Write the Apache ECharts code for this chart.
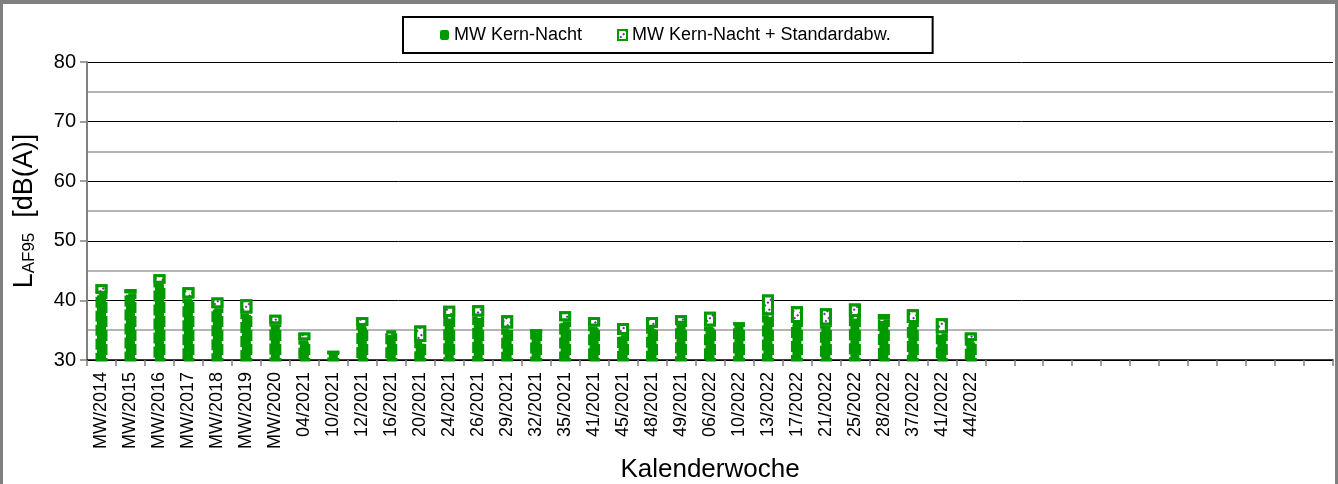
<!DOCTYPE html>
<html>
<head>
<meta charset="utf-8">
<script src="https://cdn.jsdelivr.net/npm/echarts@6/dist/echarts.min.js"></script>
<style>
html,body{margin:0;padding:0;background:#808080;}
#c{width:1338px;height:484px;}
</style>
</head>
<body>
<div id="c"></div>
<script>
// Kalenderwochen (31 Messungen + 12 leere Plätze)
var categories = ['MW/2014','MW/2015','MW/2016','MW/2017','MW/2018','MW/2019','MW/2020',
  '04/2021','10/2021','12/2021','16/2021','20/2021','24/2021','26/2021','29/2021','32/2021',
  '35/2021','41/2021','45/2021','48/2021','49/2021','06/2022','10/2022','13/2022','17/2022',
  '21/2022','25/2022','28/2022','37/2022','41/2022','44/2022',
  '','','','','','','','','','','',''];
// Mittelwert Kern-Nacht [dB(A)]
var meanValues = [41.1,41.2,42.8,40.3,38.7,37.8,36.0,33.3,31.3,35.7,34.5,33.0,37.2,37.3,35.3,34.9,
  36.5,35.6,34.2,35.4,36.1,35.6,36.1,37.5,36.2,35.8,37.2,36.8,36.2,34.5,33.2];
// Standardabweichung [dB]
var stdValues = [1.6,0.7,1.6,1.9,1.8,2.4,1.6,1.3,0,1.5,0.4,2.8,1.9,1.9,2.2,0,
  1.7,1.6,2.0,1.8,1.4,2.5,0,3.5,2.8,2.9,2.3,0.9,2.3,2.5,1.4];
var yTicks = {min:30, max:80, interval:10};
var seriesNames = ['MW Kern-Nacht','MW Kern-Nacht + Standardabw.'];

var FONT = '"Liberation Sans", Arial, sans-serif';
var GREEN = '#009900';
var hatch = {symbol:'rect', symbolSize:1, color:'#7030a0', backgroundColor:'#ffffff',
  dashArrayX:[[2,1.5]], dashArrayY:[1.5,3.5], rotation:-Math.PI/4};

var chart = echarts.init(document.getElementById('c'), null, {renderer:'canvas'});
chart.setOption({
  animation:false,
  textStyle:{fontFamily:FONT},
  graphic:{elements:[{type:'rect', silent:true, z:-100,
    shape:{x:3,y:4,width:1332,height:480}, style:{fill:'#ffffff'}}]},
  legend:{
    left:403, top:17, orient:'horizontal',
    borderColor:'#000', borderWidth:2, padding:[9,42,9,37],
    itemWidth:9, itemHeight:10, itemGap:35,
    textStyle:{fontSize:18, color:'#000', fontFamily:FONT},
    data:[
      {name:seriesNames[0], icon:'roundRect', itemStyle:{color:GREEN, borderWidth:0}},
      {name:seriesNames[1], icon:'rect', itemStyle:{color:'#fff', borderColor:GREEN, borderWidth:2, decal:hatch}}
    ]
  },
  grid:{left:87, right:5, top:62, bottom:124, containLabel:false, outerBoundsMode:'none'},
  xAxis:{
    type:'category', data:categories,
    name:'Kalenderwoche', nameLocation:'middle', nameGap:93,
    nameTextStyle:{fontSize:26, color:'#000', fontFamily:FONT},
    axisLine:{show:true, lineStyle:{color:'#000', width:1.5}},
    axisTick:{show:true, alignWithLabel:false, length:6, lineStyle:{color:'#808080', width:1.5}},
    axisLabel:{interval:0, rotate:90, fontSize:18, margin:12, color:'#000', fontFamily:FONT},
    splitLine:{show:false}
  },
  yAxis:{
    type:'value', min:yTicks.min, max:yTicks.max, interval:yTicks.interval,
    name:'{l|L}{s|AF95}{l|  [dB(A)]}', nameLocation:'middle', nameGap:49, nameRotate:90,
    nameTextStyle:{rich:{
      l:{fontSize:27, color:'#000', fontFamily:FONT, verticalAlign:'bottom', lineHeight:30},
      s:{fontSize:17, color:'#000', fontFamily:FONT, verticalAlign:'bottom', lineHeight:28}
    }},
    axisLine:{show:true, lineStyle:{color:'#808080', width:2}},
    axisTick:{show:true, length:7, lineStyle:{color:'#808080', width:1.5}},
    axisLabel:{fontSize:20, color:'#000', margin:11, fontFamily:FONT},
    splitLine:{show:true, lineStyle:{color:'#000', width:1}},
    minorTick:{show:false, splitNumber:2},
    minorSplitLine:{show:true, lineStyle:{color:'#b4b4b4', width:2}}
  },
  series:[
    {name:seriesNames[0], type:'bar', stack:'a', data:meanValues, barWidth:12,
     itemStyle:{color:GREEN, borderColor:GREEN, borderWidth:3, borderType:[11,3]}},
    {name:seriesNames[1], type:'bar', stack:'a', data:stdValues, barWidth:12,
     itemStyle:{color:'#ffffff', borderColor:GREEN, borderWidth:3, decal:hatch}}
  ]
});
</script>
</body>
</html>
